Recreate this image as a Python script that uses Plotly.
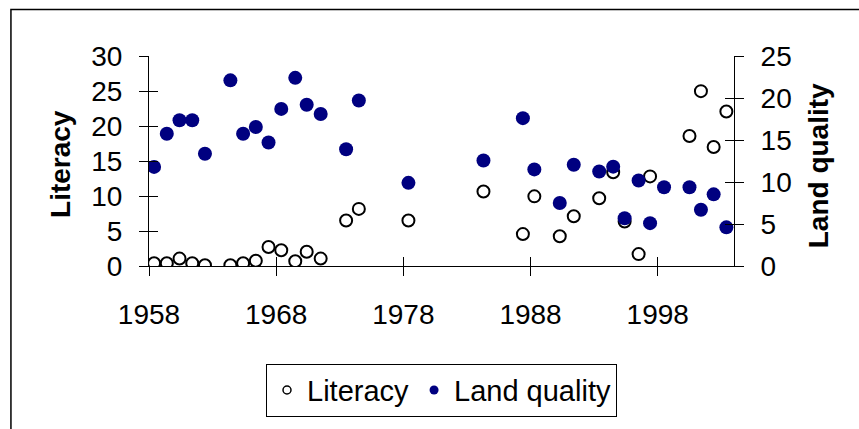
import plotly.graph_objects as go

# ---- data ----
years = [1958.4, 1959.4, 1960.4, 1961.4, 1962.4, 1964.4, 1965.4, 1966.4, 1967.4,
         1968.4, 1969.5, 1970.4, 1971.5, 1973.5, 1974.5, 1978.4, 1984.3, 1987.4,
         1988.3, 1990.3, 1991.4, 1993.4, 1994.5, 1995.4, 1996.5, 1997.4, 1998.5,
         2000.5, 2001.4, 2002.4, 2003.4]
literacy = [0.4, 0.4, 1.06, 0.4, 0.1, 0.1, 0.4, 0.74, 2.72,
            2.26, 0.69, 2.03, 1.06, 6.5, 8.16, 6.5, 10.65, 4.56,
            9.95, 4.24, 7.1, 9.68, 13.4, 6.36, 1.7, 12.8, None,
            18.57, 24.98, 17.0, 22.08]
land_quality = [11.8, 15.75, 17.36, 17.36, 13.36, 22.1, 15.75, 16.55, 14.7,
                18.7, 22.4, 19.2, 18.1, 13.9, 19.7, 9.9, 12.56, 17.6,
                11.5, 7.5, 12.06, 11.25, 11.83, 5.68, 10.17, 5.1, 9.37,
                9.37, 6.7, 8.53, 4.6]
x_range = [1958, 2004]
left_range = [0, 30]
right_range = [0, 25]

FONT = "Liberation Sans, Arial, sans-serif"
NAVY = "#000080"

fig = go.Figure()
fig.add_trace(go.Scatter(x=years, y=literacy, mode="markers", name="Literacy",
                         showlegend=False, hoverinfo="skip",
                         marker=dict(symbol="circle", size=12, color="white",
                                     line=dict(color="black", width=2))))
fig.add_trace(go.Scatter(x=years, y=land_quality, mode="markers", name="Land quality",
                         yaxis="y2", showlegend=False, hoverinfo="skip",
                         marker=dict(symbol="circle", size=14, color=NAVY,
                                     line=dict(width=0))))
# legend entries (smaller symbols as in the reference)
fig.add_trace(go.Scatter(x=[None], y=[None], mode="markers", name="Literacy",
                         marker=dict(symbol="circle", size=8, color="white",
                                     line=dict(color="black", width=1.5))))
fig.add_trace(go.Scatter(x=[None], y=[None], mode="markers", name="Land quality",
                         marker=dict(symbol="circle", size=9, color=NAVY,
                                     line=dict(width=0))))
# helper traces so that the inside-tick overlay axes get drawn (cross ticks)
fig.add_trace(go.Scatter(x=[x_range[0]], y=[left_range[0]], xaxis="x2", yaxis="y3",
                         mode="markers", marker=dict(opacity=0), showlegend=False,
                         hoverinfo="skip"))
fig.add_trace(go.Scatter(x=[x_range[0]], y=[right_range[0]], xaxis="x2", yaxis="y4",
                         mode="markers", marker=dict(opacity=0), showlegend=False,
                         hoverinfo="skip"))

tickfont = dict(family=FONT, size=28, color="black")
axis_common = dict(showgrid=False, zeroline=False, ticks="outside", ticklen=9,
                   tickwidth=1, tickcolor="black", showline=True, linecolor="black",
                   linewidth=1, tickfont=tickfont)
inside_common = dict(showgrid=False, zeroline=False, ticks="inside", ticklen=9,
                     tickwidth=1, tickcolor="black", showline=False,
                     showticklabels=False)

fig.update_layout(
    width=859, height=429, autosize=False,
    margin=dict(l=149, r=125, t=56, b=156, pad=0),
    paper_bgcolor="white", plot_bgcolor="white",
    font=dict(family=FONT, color="black"),
    xaxis=dict(range=x_range, tick0=1958, dtick=10, ticklabelstandoff=14,
               anchor="y", **axis_common),
    xaxis2=dict(range=x_range, tick0=1958, dtick=10, overlaying="x", anchor="y3",
                side="bottom", **inside_common),
    yaxis=dict(range=left_range, dtick=5, ticklabelstandoff=11, anchor="x",
               **axis_common),
    yaxis2=dict(range=right_range, dtick=5, overlaying="y", side="right",
                ticklabelstandoff=11, anchor="x", **axis_common),
    yaxis3=dict(range=left_range, dtick=5, overlaying="y", side="left",
                anchor="x2", **inside_common),
    yaxis4=dict(range=right_range, dtick=5, overlaying="y", side="right",
                anchor="x2", **inside_common),
    legend=dict(orientation="h", x=0.5, xanchor="center", y=-0.465, yanchor="top",
                bordercolor="black", borderwidth=1, bgcolor="white",
                font=dict(family=FONT, size=29, color="black"),
                itemwidth=30, tracegroupgap=0),
    showlegend=True,
    hovermode=False,
    annotations=[
        dict(text="Literacy", xref="paper", yref="paper", x=-0.1504, y=0.486,
             xanchor="center", yanchor="middle", textangle=-90, showarrow=False,
             font=dict(family=FONT, size=28, color="black", weight="bold")),
        dict(text="Land quality", xref="paper", yref="paper", x=1.1436, y=0.475,
             xanchor="center", yanchor="middle", textangle=-90, showarrow=False,
             font=dict(family=FONT, size=28, color="black", weight="bold")),
    ],
    shapes=[
        dict(type="rect", xref="paper", yref="paper", x0=-0.236, y0=-2.0,
             x1=2.0, y1=1.221, line=dict(color="black", width=1.5),
             fillcolor="rgba(0,0,0,0)", layer="below"),
    ],
)

fig.write_html("out.html",
               config={"displayModeBar": False},
               post_script="document.body.style.margin='0';"
                           "document.body.style.overflow='hidden';")
